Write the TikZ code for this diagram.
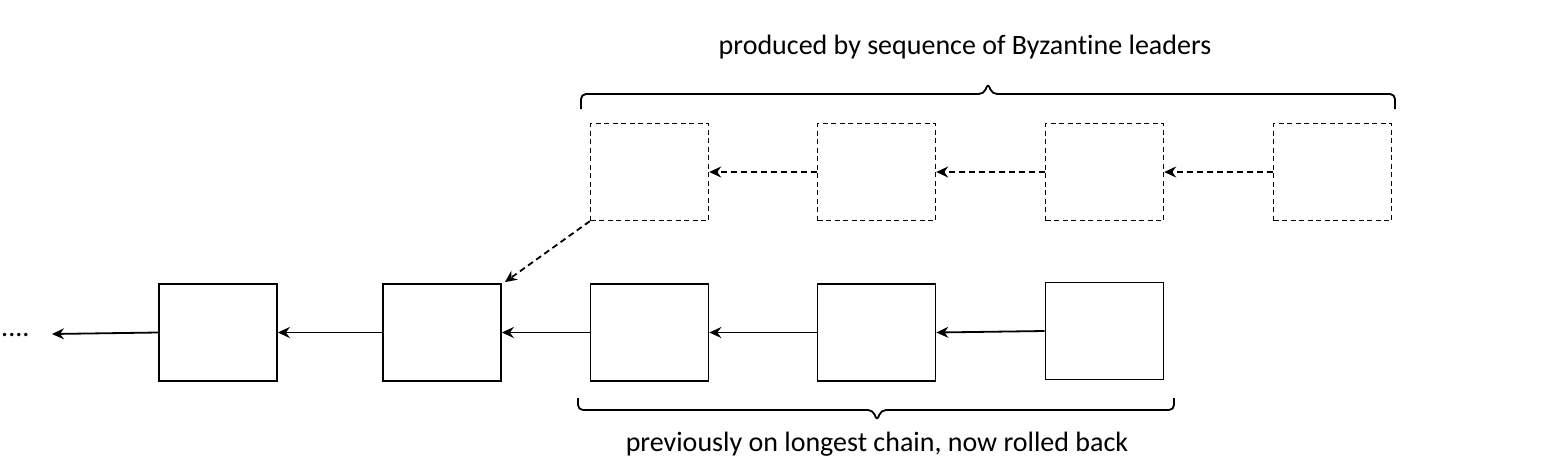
\documentclass[tikz,border=0pt]{standalone}
\usepackage{fontspec}
\setmainfont{Carlito}[Ligatures=NoCommon]
\usetikzlibrary{arrows.meta}
\begin{document}
\begin{tikzpicture}[x=1pt,y=-1pt,
  blk/.style={draw,line width=1.7pt,minimum width=118pt,minimum height=97pt,inner sep=0pt},
  dblk/.style={blk,dash pattern=on 5pt off 3.5pt,line width=1.4pt},
  conn/.style={line width=1.8pt,-{Stealth[length=12pt,width=11pt,inset=4pt]}},
  dconn/.style={conn,dash pattern=on 6pt off 4pt},
  lbl/.style={font=\fontsize{28}{32}\selectfont,inner sep=0pt},
  brc/.style={line width=1.8pt,rounded corners=5pt}]
\useasboundingbox (0,0) rectangle (1554,464);
% bottom chain
\node[blk] (b1) at (218,332.5) {};
\node[blk] (b2) at (442,332.5) {};
\node[blk] (b3) at (649.5,332.5) {};
\node[blk] (b4) at (876.5,332.5) {};
\node[blk] (b5) at (1104.5,331) {};
% top chain
\node[dblk] (t1) at (649.5,172) {};
\node[dblk] (t2) at (876.5,172) {};
\node[dblk] (t3) at (1104.5,172) {};
\node[dblk] (t4) at (1332.5,172) {};
% dots
\node[lbl,anchor=base west] (dots) at (1,336) {....};
\coordinate (dend) at (52,334);
% connectors
\draw[conn] (b1.west) -- (dend);
\draw[conn] (b2.west) -- (b1.east);
\draw[conn] (b3.west) -- (b2.east);
\draw[conn] (b4.west) -- (b3.east);
\draw[conn] (b5.west) -- (b4.east);
\draw[dconn] (t2.west) -- (t1.east);
\draw[dconn] (t3.west) -- (t2.east);
\draw[dconn] (t4.west) -- (t3.east);
\draw[dconn] (t1.south west) -- ([xshift=3pt,yshift=1pt]b2.north east);
% braces
\draw[brc] (581,109) -- (581,94) -- (984,94) -- (988,83) -- (992,94) -- (1395,94) -- (1395,109);
\node[lbl] (ttxt) at (965,47) {produced by sequence of Byzantine leaders};
\draw[brc] (578,398) -- (578,410) -- (873,410) -- (877,421) -- (881,410) -- (1174,410) -- (1174,398);
\node[lbl] (btxt) at (877,444) {previously on longest chain, now rolled back};
\end{tikzpicture}
\end{document}
